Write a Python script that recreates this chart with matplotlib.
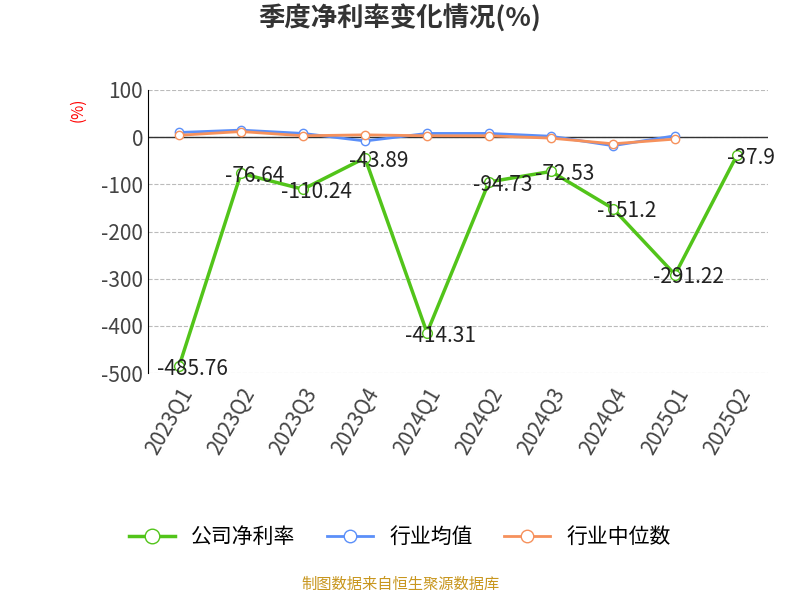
import matplotlib.pyplot as plt

plt.rcParams["font.family"] = "sans-serif"
plt.rcParams["font.sans-serif"] = ["Noto Sans CJK SC", "Noto Sans CJK JP", "Noto Sans CJK TC",
                                   "Noto Sans CJK KR", "DejaVu Sans"]
plt.rcParams["axes.unicode_minus"] = False

quarters = ["2023Q1", "2023Q2", "2023Q3", "2023Q4", "2024Q1", "2024Q2",
            "2024Q3", "2024Q4", "2025Q1", "2025Q2"]
company = [-485.76, -76.64, -110.24, -43.89, -414.31, -94.73, -72.53, -151.2, -291.22, -37.9]
industry_avg = [10, 15, 8, -8, 8, 8, 2, -18, 3]
industry_median = [4, 12, 3, 5, 3, 3, -2, -14, -4]

fig = plt.figure(figsize=(8, 6), dpi=100)
ax = fig.add_axes([0.185, 0.378, 0.775, 0.472])

x = list(range(len(quarters)))
ax.plot(x, company, color="#52c41a", lw=2.5, marker="o", ms=7,
        markerfacecolor="white", label="公司净利率", zorder=3)
ax.plot(x[:len(industry_avg)], industry_avg, color="#5b8ff9", lw=2, marker="o", ms=6,
        markerfacecolor="white", label="行业均值", zorder=4)
ax.plot(x[:len(industry_median)], industry_median, color="#f6915c", lw=2, marker="o", ms=6,
        markerfacecolor="white", label="行业中位数", zorder=5)

for xi, v in zip(x, company):
    ax.annotate("%g" % v, (xi, v), xytext=(10, -2), textcoords="offset points",
                fontsize=15, ha="center", va="center", color="#222222", zorder=6)

ax.set_ylim(-500, 100)
ax.set_xlim(-0.5, len(quarters) - 0.5)
ax.set_yticks(range(-500, 101, 100))
ax.tick_params(axis="y", labelsize=15, length=0, labelcolor="#444444")
ax.set_xticks(x)
ax.set_xticklabels(quarters, rotation=60, ha="right", fontsize=15, color="#444444",
                   rotation_mode="anchor")
ax.tick_params(axis="x", length=0, pad=8)
ax.grid(axis="y", linestyle="--", color="#bbbbbb")
for s in ["top", "right", "bottom"]:
    ax.spines[s].set_visible(False)
ax.axhline(0, color="#333333", lw=1, zorder=2)
ax.set_ylabel("(%)", color="red", fontsize=11, labelpad=2)
ax.yaxis.set_label_coords(-0.1, 0.93)

fig.text(0.5, 0.955, "季度净利率变化情况(%)", ha="center", fontsize=19, weight="bold", color="#333333")
fig.legend(loc="center", bbox_to_anchor=(0.5, 0.105), ncol=3, frameon=False, fontsize=15,
           handlelength=2.2, markerscale=1.5, columnspacing=1.5)
fig.text(0.5, 0.018, "制图数据来自恒生聚源数据库", ha="center", fontsize=11, color="#c8961e")

fig.savefig("out.png")
